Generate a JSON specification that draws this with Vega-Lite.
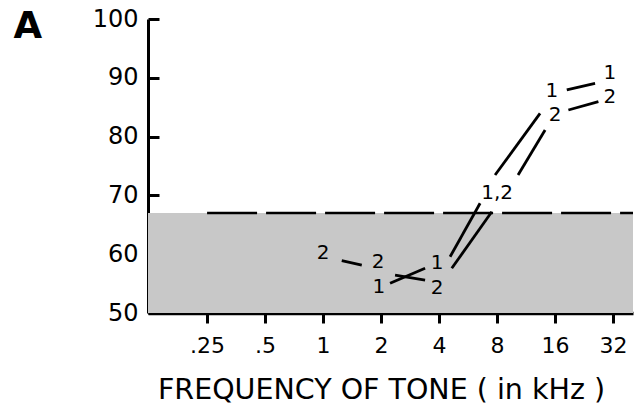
{
  "$schema": "https://vega.github.io/schema/vega-lite/v6.json",
  "autosize": "none",
  "width": 485,
  "height": 294,
  "padding": {"left": 148, "top": 19, "right": 4, "bottom": 96},
  "background": "white",
  "datasets": {
    "segments": [
      {"series": "2", "kHz": 1.25, "dB": 58.9, "kHz2": 1.588, "dB2": 58.16},
      {"series": "1", "kHz": 2.227, "dB": 55.05, "kHz2": 3.384, "dB2": 57.6},
      {"series": "2", "kHz": 2.364, "dB": 56.46, "kHz2": 3.384, "dB2": 55.6},
      {"series": "1", "kHz": 4.563, "dB": 59.57, "kHz2": 6.53, "dB2": 68.66},
      {"series": "2", "kHz": 4.656, "dB": 57.6, "kHz2": 7.51, "dB2": 67.23},
      {"series": "1", "kHz": 7.81, "dB": 73.47, "kHz2": 13.37, "dB2": 83.96},
      {"series": "2", "kHz": 10.28, "dB": 73.47, "kHz2": 14.2, "dB2": 81.12},
      {"series": "1", "kHz": 18.4, "dB": 87.93, "kHz2": 25.8, "dB2": 89.06},
      {"series": "2", "kHz": 18.76, "dB": 84.52, "kHz2": 26.85, "dB2": 85.94}
    ],
    "labels": [
      {"kHz": 1.0, "dB": 60.2, "t": "2"},
      {"kHz": 1.93, "dB": 58.6, "t": "2"},
      {"kHz": 1.95, "dB": 54.5, "t": "1"},
      {"kHz": 3.91, "dB": 58.5, "t": "1"},
      {"kHz": 3.91, "dB": 54.3, "t": "2"},
      {"kHz": 8.0, "dB": 70.4, "t": "1,2"},
      {"kHz": 15.4, "dB": 87.8, "t": "1"},
      {"kHz": 16.0, "dB": 83.7, "t": "2"},
      {"kHz": 30.8, "dB": 90.8, "t": "1"},
      {"kHz": 30.8, "dB": 86.7, "t": "2"}
    ],
    "band": [
      {"kHz": 0.1234, "kHz2": 40.6, "dB": 50, "dB2": 67}
    ],
    "criterion": [
      {"kHz": 0.25, "kHz2": 40.6, "dB": 67}
    ]
  },
  "layer": [
    {
      "data": {"name": "band"},
      "mark": {"type": "rect", "fill": "#c8c8c8", "stroke": null},
      "encoding": {
        "x": {"field": "kHz", "type": "quantitative", "title": "FREQUENCY OF TONE ( in kHz )"},
        "x2": {"field": "kHz2"},
        "y": {"field": "dB", "type": "quantitative", "title": "A"},
        "y2": {"field": "dB2"}
      }
    },
    {
      "data": {"name": "criterion"},
      "mark": {"type": "rule", "color": "black", "strokeWidth": 2.5, "strokeDash": [50, 9]},
      "encoding": {
        "x": {"field": "kHz", "type": "quantitative", "title": "FREQUENCY OF TONE ( in kHz )"},
        "x2": {"field": "kHz2"},
        "y": {"field": "dB", "type": "quantitative", "title": "A"}
      }
    },
    {
      "data": {"name": "segments"},
      "mark": {"type": "rule", "color": "black", "strokeWidth": 2.8, "strokeCap": "butt"},
      "encoding": {
        "x": {"field": "kHz", "type": "quantitative", "title": "FREQUENCY OF TONE ( in kHz )"},
        "x2": {"field": "kHz2"},
        "y": {"field": "dB", "type": "quantitative", "title": "A"},
        "y2": {"field": "dB2"}
      }
    },
    {
      "data": {"name": "labels"},
      "mark": {"type": "text", "color": "black", "font": "DejaVu Sans", "fontSize": 20, "align": "center", "baseline": "middle"},
      "encoding": {
        "x": {
          "field": "kHz", "type": "quantitative",
          "title": "FREQUENCY OF TONE ( in kHz )",
          "scale": {"type": "log", "base": 2, "domain": [0.1234, 40.6], "nice": false, "zero": false},
          "axis": {
            "values": [0.25, 0.5, 1, 2, 4, 8, 16, 32],
            "labelExpr": "datum.value < 1 ? replace(toString(datum.value), '0.', '.') : toString(datum.value)"
          }
        },
        "y": {
          "field": "dB", "type": "quantitative",
          "title": "A",
          "scale": {"domain": [50, 100], "nice": false, "zero": false},
          "axis": {"values": [50, 60, 70, 80, 90, 100]}
        },
        "text": {"field": "t"}
      }
    }
  ],
  "config": {
    "view": {"stroke": null},
    "axis": {"grid": false, "domainColor": "black", "tickColor": "black", "labelColor": "black", "titleColor": "black", "labelFont": "DejaVu Sans", "titleFont": "DejaVu Sans"},
    "axisY": {
      "domainWidth": 3, "tickWidth": 3, "tickSize": -11,
      "labelFontSize": 24, "labelPadding": 21, "labelBaseline": "middle",
      "titleAngle": 0, "titleAlign": "left", "titleBaseline": "alphabetic",
      "titleX": -135, "titleY": 18, "titleFontSize": 37, "titleFontWeight": "bold"
    },
    "axisX": {
      "domainWidth": 3.5, "tickWidth": 3, "tickSize": 10,
      "labelFontSize": 22, "labelPadding": 12, "labelFlush": false, "labelOverlap": false,
      "titleFontSize": 28.5, "titleFontWeight": "normal", "titleBaseline": "alphabetic",
      "titleX": 233, "titleY": 85, "titleAnchor": "middle"
    }
  }
}
